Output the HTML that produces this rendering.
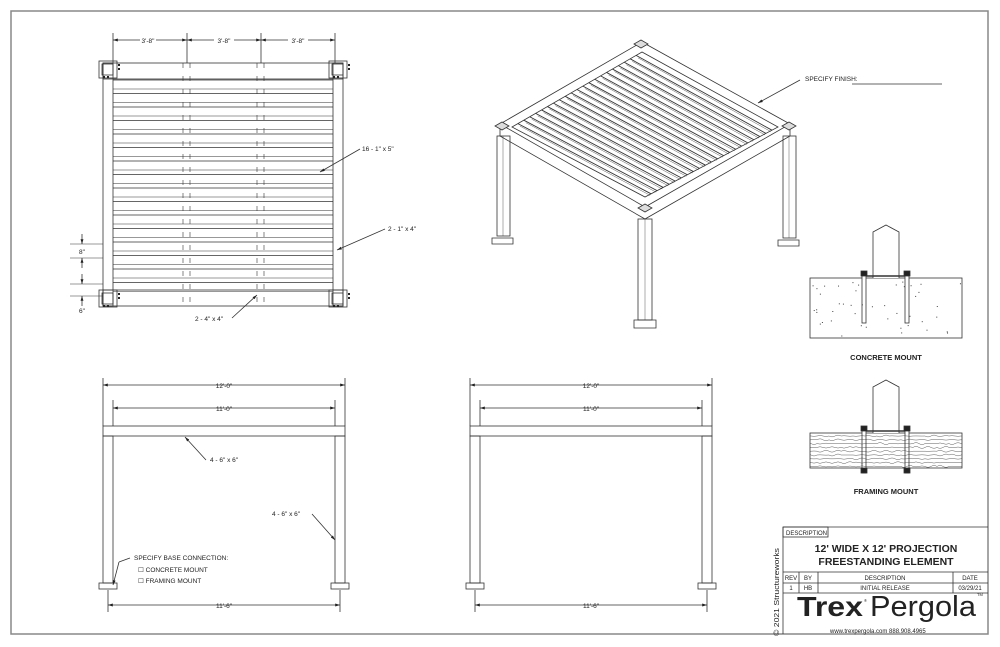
<!DOCTYPE html>
<html><head><meta charset="utf-8"><style>
html,body{margin:0;padding:0;background:#fff;}
svg{display:block;}
text{font-family:"Liberation Sans",sans-serif;fill:#222;}
</style></head><body>
<svg id="s" width="1000" height="647" viewBox="0 0 1000 647" xmlns="http://www.w3.org/2000/svg">
<defs>
<marker id="a" viewBox="0 0 10 10" refX="10" refY="5" markerWidth="6" markerHeight="6" orient="auto-start-reverse"><path d="M0,2 L10,5 L0,8z" fill="#222"/></marker>
<clipPath id="wc"><rect x="810" y="433" width="152" height="35"/></clipPath>
</defs>
<rect x="0" y="0" width="1000" height="647" fill="#fff"/>
<rect x="11" y="11" width="977" height="623" fill="none" stroke="#888" stroke-width="1.5"/>
<g id="g" stroke="#333" stroke-width="0.8" fill="none"></g>
<g id="w" stroke="#333" stroke-width="0.4" fill="none" clip-path="url(#wc)"></g>
<g font-size="6.5">
<text x="148" y="43" text-anchor="middle">3'-8"</text>
<text x="224" y="43" text-anchor="middle">3'-8"</text>
<text x="298" y="43" text-anchor="middle">3'-8"</text>
<text x="82" y="254" text-anchor="middle">8"</text>
<text x="82" y="313" text-anchor="middle">6"</text>
<text x="362" y="151">16 - 1" x 5"</text>
<text x="388" y="231">2 - 1" x 4"</text>
<text x="195" y="321">2 - 4" x 4"</text>
<text x="805" y="81">SPECIFY FINISH:</text>
<text x="224" y="388" text-anchor="middle">12'-0"</text>
<text x="224" y="411" text-anchor="middle">11'-0"</text>
<text x="224" y="608" text-anchor="middle">11'-6"</text>
<text x="591" y="388" text-anchor="middle">12'-0"</text>
<text x="591" y="411" text-anchor="middle">11'-0"</text>
<text x="591" y="608" text-anchor="middle">11'-6"</text>
<text x="210" y="462">4 - 6" x 6"</text>
<text x="272" y="516">4 - 6" x 6"</text>
<text x="134" y="560">SPECIFY BASE CONNECTION:</text>
<text x="138" y="572">☐ CONCRETE MOUNT</text>
<text x="138" y="583">☐ FRAMING MOUNT</text>
<text x="786" y="535" font-size="6">DESCRIPTION</text>
<text x="791" y="580" font-size="6" text-anchor="middle">REV</text>
<text x="808" y="580" font-size="6" text-anchor="middle">BY</text>
<text x="885" y="580" font-size="6" text-anchor="middle">DESCRIPTION</text>
<text x="970" y="580" font-size="6" text-anchor="middle">DATE</text>
<text x="791" y="590" font-size="6" text-anchor="middle">1</text>
<text x="808" y="590" font-size="6" text-anchor="middle">HB</text>
<text x="885" y="590" font-size="6" text-anchor="middle">INITIAL RELEASE</text>
<text x="970" y="590" font-size="6" text-anchor="middle">03/29/21</text>
</g>
<text x="886" y="360" font-size="7.5" font-weight="bold" text-anchor="middle">CONCRETE MOUNT</text>
<text x="886" y="494" font-size="7.5" font-weight="bold" text-anchor="middle">FRAMING MOUNT</text>
<text x="886" y="552" font-size="10.5" font-weight="bold" text-anchor="middle">12' WIDE X 12' PROJECTION</text>
<text x="886" y="565" font-size="10.5" font-weight="bold" text-anchor="middle">FREESTANDING ELEMENT</text>
<text x="797" y="616" font-size="28" font-weight="bold" textLength="66" lengthAdjust="spacingAndGlyphs">Trex</text>
<text x="864" y="602" font-size="4">®</text>
<text x="870" y="616" font-size="29" textLength="106" lengthAdjust="spacingAndGlyphs">Pergola</text>
<text x="977" y="596" font-size="4">TM</text>
<text x="830" y="633" font-size="6">www.trexpergola.com     888.908.4965</text>
<text transform="translate(779,636) rotate(-90)" font-size="7.5" textLength="88" lengthAdjust="spacingAndGlyphs">© 2021 Structureworks</text>
</svg>
<script>
var g=document.getElementById('g'),NS='http://www.w3.org/2000/svg';
function e(t,a,par){var n=document.createElementNS(NS,t);for(var k in a)n.setAttribute(k,a[k]);(par||g).appendChild(n);return n;}
function L(x1,y1,x2,y2,ex){var o={x1:x1,y1:y1,x2:x2,y2:y2};for(var k in ex||{})o[k]=ex[k];return e('line',o);}
function R(x,y,w,h,ex){var o={x:x,y:y,width:w,height:h};for(var k in ex||{})o[k]=ex[k];return e('rect',o);}
function P(d,ex,par){var o={d:d};for(var k in ex||{})o[k]=ex[k];return e('path',o,par);}
var ar={'marker-end':'url(#a)'},ab={'marker-end':'url(#a)','marker-start':'url(#a)'};
// PLAN
[113,187,261,335].forEach(function(x){L(x,33,x,63);});
L(113,40,140,40,{'marker-start':'url(#a)'});L(156,40,187,40,ar);
L(187,40,214,40,{'marker-start':'url(#a)'});L(234,40,261,40,ar);
L(261,40,288,40,{'marker-start':'url(#a)'});L(308,40,335,40,ar);
R(103,63,240,16);R(103,290,240,16);
R(103,63,10,243);R(333,63,10,243);
for(var i=0;i<16;i++){var y=80+i*13.5;L(113,y,333,y);L(113,y+9,333,y+9,{'stroke-width':0.5});}
[183,190,257,264].forEach(function(x){L(x,63,x,306,{'stroke-dasharray':'5,8','stroke-width':0.6});});
[[99,61],[329,61],[99,290],[329,290]].forEach(function(p){R(p[0],p[1],18,17);R(p[0]+3,p[1]+3,11,11);
for(var j=0;j<2;j++){R(p[0]+4+j*4,p[1]+15,2,2,{fill:'#222',stroke:'none'});R(p[0]+19,p[1]+3+j*4,2,2,{fill:'#222',stroke:'none'});}});
[244,258,284,296].forEach(function(y){L(70,y,103,y,{'stroke-width':0.5});});
L(82,234,82,244,ar);L(82,268,82,258,ar);L(82,274,82,284,ar);L(82,306,82,296,ar);
L(360,149,320,172,ar);L(385,229,337,250,ar);L(232,318,257,295,ar);
// ISO
P('M642,42 L500,124 L645,207 L790,124 Z');
P('M500,124 L500,136 L645,219 L790,136 L790,124');
P('M642,52 L512,127 L645,197 L778,127 Z');
for(var i=1;i<22;i++){var t=i/22;var sx=642+t*(512-642),sy=52+t*(127-52),ex=778+t*(645-778),ey=127+t*(197-127);
L(sx,sy,ex,ey,{'stroke-width':0.9});L(sx+2,sy+2.5,ex-1,ey+1.5,{'stroke-width':0.4});}
[[502,126],[641,44],[789,126],[645,208]].forEach(function(p){P('M'+(p[0]-7)+','+p[1]+' l7,-4 l7,4 l-7,4z',{fill:'#ddd'});});
R(497,136,13,100);L(503,136,503,236,{'stroke-width':0.4});P('M492,238 l21,0 l0,6 l-21,0z');
R(783,136,13,102);L(789,136,789,238,{'stroke-width':0.4});P('M778,240 l21,0 l0,6 l-21,0z');
R(638,219,14,101);L(645,219,645,320,{'stroke-width':0.4});P('M634,320 l22,0 l0,8 l-22,0z');
L(800,80,758,103,ar);L(852,84,942,84);
// ELEVATIONS
function elev(o){var x0=103+o,x1=345+o;
L(x0,378,x0,426);L(x1,378,x1,426);L(x0+10,400,x0+10,426);L(x1-10,400,x1-10,426);
L(x0,385,x1,385,ab);L(x0+10,408,x1-10,408,ab);
R(x0,426,242,10);R(x0,436,10,147);R(x1-10,436,10,147);
R(x0-4,583,18,6);R(x1-14,583,18,6);
L(x0+5,590,x0+5,612);L(x1-5,590,x1-5,612);L(x0+5,605,x1-5,605,ab);}
elev(0);elev(367);
L(206,460,185,437,ar);L(312,514,335,540,ar);
L(130,558,119,562);L(119,562,113,585,ar);
// MOUNTS
var seed=3;function rnd(){seed=(seed*9301+49297)%233280;return seed/233280;}
var w=document.getElementById('w');
for(var i=0;i<9;i++){var y=436+i*3.8,d='M805,'+y;for(var x=805;x<965;x+=12)d+=' q3,'+(rnd()*4-2).toFixed(1)+' 6,0 t6,0';P(d,{},w);}
function mount(y0,h,wood){R(810,y0,152,h);P('M873,'+y0+' L873,'+(y0-46)+' L886,'+(y0-53)+' L899,'+(y0-46)+' L899,'+y0,{fill:'#fff'});
L(866,y0-2,906,y0-2,{'stroke-width':1.5});
[864,907].forEach(function(x){R(x-2,y0-5,4,wood?h+10:50,{fill:'#fff'});R(x-3,y0-7,6,5,{fill:'#222'});if(wood)R(x-3,y0+h,6,5,{fill:'#222'});});}
mount(278,60,false);mount(433,35,true);
for(var i=0;i<45;i++)R(812+rnd()*148,280+rnd()*56,1,1,{fill:'#444',stroke:'none'});
// TITLE BLOCK
L(783,527,988,527);L(783,527,783,634);
R(783,527,45,10);L(783,572,988,572);L(783,583,988,583);L(783,593,988,593);
[799,818,953].forEach(function(x){L(x,572,x,593);});
</script>
</body></html>
